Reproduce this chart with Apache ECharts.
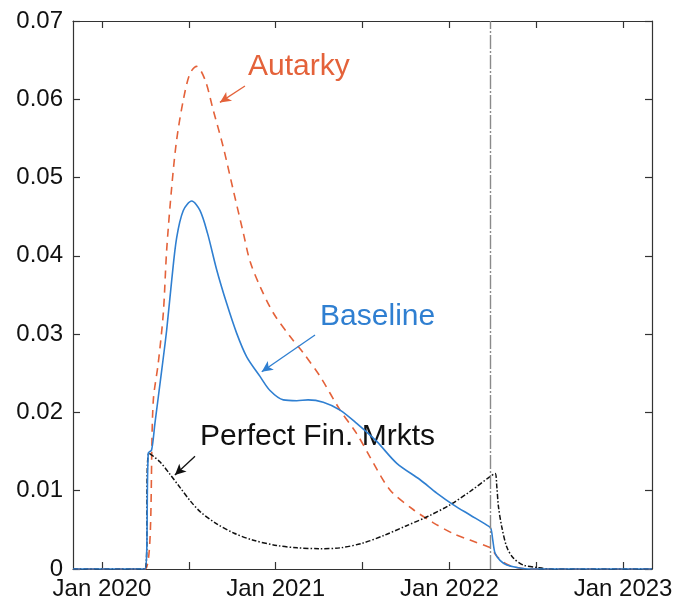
<!DOCTYPE html>
<html>
<head>
<meta charset="utf-8">
<script src="https://cdn.jsdelivr.net/npm/echarts@6/dist/echarts.min.js"></script>
<style>
  html, body { margin: 0; padding: 0; background: #ffffff; }
  #chart { width: 676px; height: 603px; }
</style>
</head>
<body>
<div id="chart"></div>
<script>
// x values are months since January 2020
const tickMonths = [0, 6, 12, 18, 24, 30, 36];
const labelMonths = [0, 12, 24, 36];
const tickLabels = ['Jan 2020', 'Jan 2021', 'Jan 2022', 'Jan 2023'];
const yTicks = [0, 0.01, 0.02, 0.03, 0.04, 0.05, 0.06, 0.07];

// end of the episode (vertical reference line)
const episodeEnd = 26.86;

const baselineMonths = [-2, 2.97, 3.20, 3.43, 3.66, 4.13, 4.47, 4.82, 5.16, 5.62, 6.20, 6.77, 7.29, 7.93, 8.62, 9.31, 10.0, 10.92, 11.61, 12.53, 13.46, 14.24, 15.29, 16.45, 17.6, 18.98, 20.37, 21.98, 23.13, 24.28, 25.43, 26.59, 26.86, 27.0, 27.16, 27.5, 27.97, 28.66, 29.6, 38];
const baselineValues = [0, 0, 0.0148, 0.0152, 0.0186, 0.0254, 0.0305, 0.0369, 0.0423, 0.0458, 0.0470, 0.0458, 0.0429, 0.0382, 0.0339, 0.0301, 0.0271, 0.0246, 0.0228, 0.0216, 0.0215, 0.0216, 0.0213, 0.0203, 0.0186, 0.0163, 0.0135, 0.0114, 0.0097, 0.0082, 0.0069, 0.0056, 0.0052, 0.0037, 0.0020, 0.0011, 0.0005, 0.0002, 0, 0];

const autarkyMonths = [-2, 2.97, 3.55, 3.89, 4.24, 4.47, 4.82, 5.16, 5.62, 6.08, 6.54, 7.12, 7.69, 8.38, 9.07, 9.77, 10.23, 10.92, 11.84, 13.0, 13.91, 15.07, 16.45, 17.6, 18.52, 19.9, 21.5, 22.9, 24.3, 25.43, 26.59, 26.86, 27.3, 27.97, 28.66, 29.5, 38];
const autarkyValues = [0, 0, 0.0216, 0.0263, 0.0327, 0.0407, 0.0488, 0.0548, 0.0599, 0.0633, 0.0642, 0.0625, 0.0586, 0.0539, 0.0484, 0.0429, 0.0393, 0.0361, 0.0327, 0.0297, 0.0276, 0.0246, 0.0203, 0.0173, 0.0143, 0.0101, 0.0076, 0.0059, 0.0045, 0.0037, 0.0029, 0.0027, 0.0016, 0.0006, 0.0002, 0, 0];

const perfectMonths = [-2, 2.97, 3.25, 4.0, 4.7, 5.4, 6.1, 6.8, 7.9, 9.1, 10.4, 12.07, 13.5, 15.0, 16.45, 18.0, 19.5, 21.0, 22.5, 24.05, 25.43, 26.81, 27.16, 27.28, 27.39, 27.62, 27.97, 28.42, 29.12, 30.04, 31.0, 38];
const perfectValues = [0, 0, 0.0148, 0.0137, 0.0121, 0.0104, 0.0087, 0.0073, 0.0058, 0.0046, 0.0037, 0.0030, 0.0027, 0.0026, 0.0027, 0.0033, 0.0043, 0.0055, 0.0067, 0.0082, 0.0099, 0.0118, 0.0122, 0.0105, 0.0080, 0.0054, 0.0028, 0.0014, 0.0005, 0.0002, 0, 0];

const pairs = (xs, ys) => xs.map((x, i) => [x, ys[i]]);

const FONT = "'Liberation Sans', Arial, Helvetica, sans-serif";
const BLUE = '#2f7fd1';
const ORANGE = '#e4623a';
const BLACK = '#111111';
const FRAME = '#333333';

const chart = echarts.init(document.getElementById('chart'), null, { renderer: 'canvas' });

const frameAxis = (position, showLabels) => ({
  type: 'value',
  min: -2,
  max: 38,
  position: position,
  axisLine: { show: true, onZero: false, lineStyle: { color: FRAME, width: 1.2 } },
  axisTick: { show: true, inside: true, length: 7, customValues: tickMonths, lineStyle: { color: FRAME, width: 1.2 } },
  axisLabel: {
    show: showLabels,
    customValues: labelMonths,
    formatter: v => tickLabels[labelMonths.indexOf(Math.round(v))] || '',
    fontSize: 24,
    fontFamily: FONT,
    color: '#111',
    margin: 8
  },
  splitLine: { show: false }
});

const frameYAxis = (position, showLabels) => ({
  type: 'value',
  min: yTicks[0],
  max: yTicks[yTicks.length - 1],
  interval: 0.01,
  position: position,
  axisLine: { show: true, onZero: false, lineStyle: { color: FRAME, width: 1.2 } },
  axisTick: { show: true, inside: true, length: 7, lineStyle: { color: FRAME, width: 1.2 } },
  axisLabel: {
    show: showLabels,
    formatter: v => (Math.abs(v) < 1e-9 ? '0' : v.toFixed(2)),
    fontSize: 24,
    fontFamily: FONT,
    color: '#111',
    margin: 10
  },
  splitLine: { show: false }
});

const arrow = (from, to, color) => ({
  silent: true,
  symbol: ['none', 'arrow'],
  symbolSize: [8, 11],
  label: { show: false },
  lineStyle: { color: color, width: 1.3, type: 'solid' },
  emphasis: { disabled: true },
  data: [[{ coord: from }, { coord: to }]]
});

chart.setOption({
  animation: false,
  backgroundColor: '#ffffff',
  grid: { left: 73, right: 24, top: 21, bottom: 34, containLabel: false },
  xAxis: [frameAxis('bottom', true), frameAxis('top', false)],
  yAxis: [frameYAxis('left', true), frameYAxis('right', false)],
  series: [
    {
      name: 'Perfect Fin. Mrkts',
      type: 'line',
      data: pairs(perfectMonths, perfectValues),
      showSymbol: false,
      smooth: 0.3,
      lineStyle: { color: BLACK, width: 1.5, type: [5, 2, 1.5, 2] },
      z: 3,
      markLine: arrow([6.43, 0.0144], [5.04, 0.0120], BLACK)
    },
    {
      name: 'Autarky',
      type: 'line',
      data: pairs(autarkyMonths, autarkyValues),
      showSymbol: false,
      smooth: 0.3,
      lineStyle: { color: ORANGE, width: 1.6, type: [8, 6] },
      z: 2,
      markLine: arrow([9.88, 0.0617], [8.15, 0.0596], ORANGE)
    },
    {
      name: 'Baseline',
      type: 'line',
      data: pairs(baselineMonths, baselineValues),
      showSymbol: false,
      smooth: 0.3,
      lineStyle: { color: BLUE, width: 1.6 },
      z: 4,
      markLine: arrow([14.72, 0.0299], [11.04, 0.0252], BLUE)
    },
    {
      name: 'episode end',
      type: 'line',
      data: [],
      markLine: {
        silent: true,
        symbol: ['none', 'none'],
        label: { show: false },
        lineStyle: { color: '#8a8a8a', width: 1.4, type: [14, 2, 2, 2] },
        data: [{ xAxis: episodeEnd }]
      }
    }
  ]
});

// Curve labels placed in data coordinates
const notes = [
  { text: 'Autarky', at: [10.09, 0.0641], color: ORANGE },
  { text: 'Baseline', at: [15.07, 0.03225], color: BLUE },
  { text: 'Perfect Fin. Mrkts', at: [6.77, 0.01686], color: BLACK }
];
chart.setOption({
  graphic: notes.map(n => {
    const p = chart.convertToPixel({ gridIndex: 0 }, n.at);
    return {
      type: 'text',
      x: p[0],
      y: p[1],
      silent: true,
      style: {
        text: n.text,
        fill: n.color,
        font: '30px ' + FONT,
        textAlign: 'left',
        textVerticalAlign: 'middle'
      }
    };
  })
});
</script>
</body>
</html>
